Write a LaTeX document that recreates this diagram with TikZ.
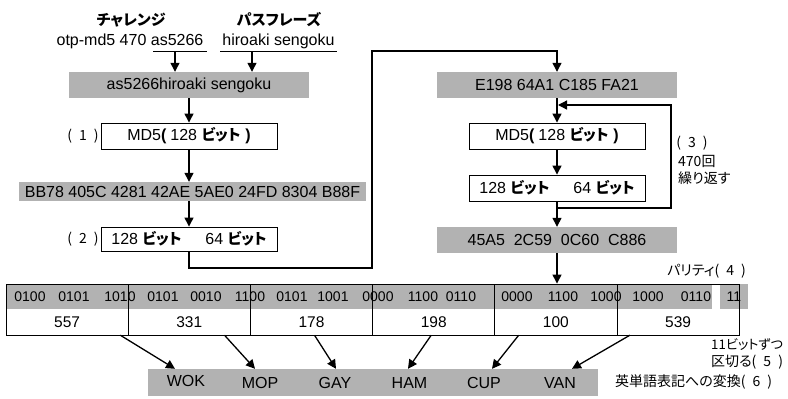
\documentclass[tikz,border=0pt]{standalone}
\usepackage{fontspec}
\setmainfont{Liberation Sans}
\newfontfamily\jp{Noto Sans CJK JP}[RawFeature=+palt]
\usetikzlibrary{arrows.meta}
\definecolor{bargray}{RGB}{178,178,178}
\newcommand\pnum[1]{(\hspace{.5em}#1\hspace{.5em})}
\newcommand\bitto{{\fontsize{15}{17}\selectfont\jp\bfseries ビット}}
\begin{document}
\begin{tikzpicture}[x=1pt,y=-1pt,
  every node/.style={inner sep=0pt, font=\fontsize{16}{18}\selectfont},
  gbox/.style={fill=bargray, minimum height=26pt},
  wbox/.style={draw, line width=0.9pt, fill=white, minimum width=176pt, minimum height=26pt},
  arr/.style={line width=1.3pt, -{Triangle[length=9pt,width=9pt]}},
  conn/.style={line width=1.3pt},
  jlabel/.style={font=\fontsize{14}{16}\selectfont\jp},
  bits/.style={font=\fontsize{14}{16}\selectfont},
  num/.style={font=\fontsize{15.5}{17}\selectfont, minimum width=122pt, minimum height=26pt},
  word/.style={font=\fontsize{16}{18}\selectfont, minimum height=27pt}]
\useasboundingbox (0,0) rectangle (788,399);

% top inputs
\node[font=\fontsize{15}{17}\selectfont\jp\bfseries] (chal) at (131,20) {チャレンジ};
\node[font=\fontsize{15}{17}\selectfont\jp\bfseries] (pass) at (279,20) {パスフレーズ};
\node (otp) at (130,41) {otp-md5 470 as5266};
\node (hs) at (278.5,41) {hiroaki sengoku};
\draw[line width=0.8pt] (153,51) -- (207,51);
\draw[line width=0.8pt] (220,51) -- (337,51);
\coordinate (u1) at (175,51);
\coordinate (u2) at (252,51);

% left column
\node[gbox, minimum width=240pt] (g1) at (189,85) {as5266hiroaki sengoku};
\draw[arr] (u1) -- (u1 |- g1.north);
\draw[arr] (u2) -- (u2 |- g1.north);
\node[wbox] (md5l) at (189,136) {MD5{\bfseries(}\hspace{.25em}128 \bitto\hspace{.3em}{\bfseries)}};
\node[jlabel] (l1) at (83,136) {\pnum{1}};
\draw[arr] (g1.south) -- (md5l.north);
\node[gbox, minimum width=347pt, minimum height=19pt] (bb) at (192.5,191.5) {BB78 405C 4281 42AE 5AE0 24FD 8304 B88F};
\draw[arr] (md5l.south) -- (md5l.south |- bb.north);
\node[wbox, minimum height=24pt] (b2l) at (189,239) {128 \bitto\hspace{1.5em}64 \bitto};
\node[jlabel] (l2) at (83,239) {\pnum{2}};
\draw[arr] (md5l.south |- bb.south) -- (b2l.north);

% right column
\node[gbox, minimum width=240pt] (e1) at (557,85) {E198 64A1 C185 FA21};
\draw[arr] (b2l.south) -- (189,268) -- (372,268) -- (372,51) -- (557,51) -- (e1.north);
\node[wbox] (md5r) at (557,136) {MD5{\bfseries(}\hspace{.25em}128 \bitto\hspace{.3em}{\bfseries)}};
\draw[arr] (e1.south) -- (md5r.north);
\node[wbox] (b2r) at (557,188) {128 \bitto\hspace{1.5em}64 \bitto};
\draw[arr] (md5r.south) -- (b2r.north);
\node[gbox, minimum width=240pt] (h45) at (557,240) {45A5\ \ 2C59\ \ 0C60\ \ C886};
\coordinate (fb) at (557,208);
\coordinate (fbin) at (558,105);
\draw[conn] (b2r.south) -- (fb);
\draw[arr] (fb) -- (h45.north);
\draw[arr] (fb) -- (671,208) -- (671,105) -- (fbin);
\node[jlabel] (l3) at (692,143) {\pnum{3}};
\node[jlabel, anchor=west] (l3b) at (678,161) {470回};
\node[jlabel, anchor=west] (l3c) at (678,178) {繰り返す};

% bit row
\fill[bargray] (6,284) rectangle (712,309);
\fill[bargray] (720,284) rectangle (748,309);
\node[draw, line width=0.9pt, minimum width=733pt, minimum height=51pt] (row) at (372.5,309.5) {};
\foreach \k in {1,...,5} \draw[line width=0.9pt] ({6+122.2*\k},284) -- ({6+122.2*\k},335);
\foreach \x/\t [count=\i] in {30/0100,74/0101,120/1010,163/0101,206/0010,250/1100,292/0101,333/1001,378/0000,423/1100,461/0110,517/0000,563/1100,606/1000,648/1000,696/0110}
  \node[bits] (b\i) at (\x,297) {\t};
\node[bits] (par) at (734,297) {11};
\node[jlabel, anchor=east] (l4) at (746,271) {パリティ\pnum{4}};
\draw[arr] (h45.south) -- (h45.south |- row.north);

\foreach \n [count=\i] in {557,331,178,198,100,539}
  \node[num] (c\i) at ({6+122.2*(\i-0.5)},322) {\n};

% words
\fill[bargray] (148,369) rectangle (598,396);
\node[word] (w1) at (186,381) {WOK};
\node[word] (w2) at (260,382.5) {MOP};
\node[word] (w3) at (335,382.5) {GAY};
\node[word] (w4) at (409.5,382.5) {HAM};
\node[word] (w5) at (484,382.5) {CUP};
\node[word] (w6) at (560,382.5) {VAN};
\draw[arr] ([xshift=-8pt]c1.south east) -- ([xshift=-11pt,yshift=-1.5pt]w1.north);
\draw[arr] ([xshift=-26pt]c2.south east) -- ([xshift=-5pt]w2.north);
\draw[arr] ([xshift=3pt]c3.south) -- ([xshift=1pt]w3.north);
\draw[arr] ([xshift=-2.5pt]c4.south) -- ([xshift=-1.5pt]w4.north);
\draw[arr] ([xshift=24pt]c5.south west) -- ([xshift=8pt]w5.north);
\draw[arr] ([xshift=13pt]c6.south west) -- ([xshift=12pt]w6.north);

\node[jlabel, font=\fontsize{13.2}{15}\selectfont\jp, anchor=west] (l5a) at (711,345) {11ビットずつ};
\node[jlabel, anchor=west] (l5b) at (711,362) {区切る\pnum{5}};
\node[jlabel, anchor=west] (l6) at (615,382) {英単語表記への変換\pnum{6}};
\end{tikzpicture}
\end{document}
